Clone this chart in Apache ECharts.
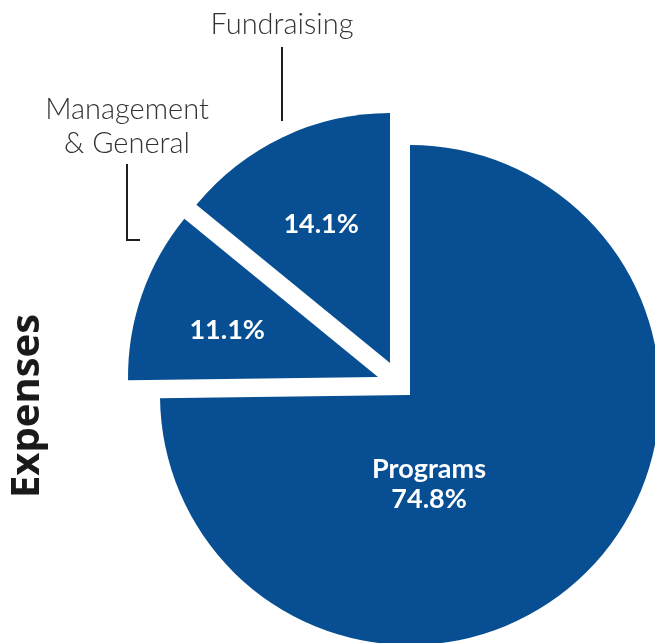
<!DOCTYPE html>
<html>
<head>
<meta charset="utf-8">
<script src="https://cdn.jsdelivr.net/npm/echarts@6/dist/echarts.min.js"></script>
<style>
html,body{margin:0;padding:0;background:#fff;}
#chart{width:655px;height:643px;}
</style>
</head>
<body>
<div id="chart"></div>
<script>
// ---- data ----
const titleText = 'Expenses';
const categories = ['Programs', 'Management & General', 'Fundraising'];
const values = [74.8, 11.1, 14.1];

// ---- layout / style config ----
const BLUE = '#074f92';
const pieCenter = [410, 395];
const pieRadius = 250;
const sliceShift = [[0, 0], [-32, -18], [-20, -32]];   // explode offsets per slice
const innerLabelShift = [[-72, -1], [-30, -4], [-14, -23]];

const chart = echarts.init(document.getElementById('chart'), null, {renderer: 'canvas'});

function innerFormatter(p) {
  const pct = p.value.toFixed(1) + '%';
  return p.dataIndex === 0 ? p.name + '\n' + pct : pct;
}

const series = categories.map(function (_, i) {
  return {
    type: 'pie',
    silent: true,
    clockwise: true,
    startAngle: 90,
    center: [pieCenter[0] + sliceShift[i][0], pieCenter[1] + sliceShift[i][1]],
    radius: [0, pieRadius],
    avoidLabelOverlap: false,
    animation: false,
    emphasis: {disabled: true},
    label: {
      show: true,
      position: 'inside',
      formatter: innerFormatter,
      color: '#ffffff',
      fontFamily: 'Lato',
      fontWeight: 'bold',
      fontSize: 27,
      lineHeight: 30
    },
    labelLine: {show: false},
    labelLayout: function (params) {
      const s = innerLabelShift[params.dataIndex];
      return {dx: s[0], dy: s[1]};
    },
    data: categories.map(function (name, j) {
      return {
        name: name,
        value: values[j],
        itemStyle: {color: j === i ? BLUE : 'rgba(0,0,0,0)'},
        label: {show: j === i}
      };
    })
  };
});

// outer annotation labels with leader lines
const outerLabelPos = {
  1: {x: 127, y: 127, line: [[140, 240], [127, 240], [127, 164]]},
  2: {x: 282, y: 25, line: [[282, 121], [282, 84], [282, 47]]}
};
series.push({
  type: 'pie',
  silent: true,
  center: pieCenter,
  radius: [0, pieRadius],
  startAngle: 90,
  avoidLabelOverlap: false,
  animation: false,
  emphasis: {disabled: true},
  itemStyle: {color: 'rgba(0,0,0,0)'},
  label: {
    show: true,
    position: 'outside',
    formatter: function (p) { return p.name.replace(' & ', '\n& '); },
    color: '#333333',
    fontFamily: 'Lato',
    fontWeight: 300,
    fontSize: 29,
    lineHeight: 34,
    align: 'center'
  },
  labelLine: {show: true, lineStyle: {color: '#1e1e1e', width: 2}, length: 20, length2: 20},
  labelLayout: function (params) {
    const o = outerLabelPos[params.dataIndex];
    if (!o) return {};
    return {x: o.x, y: o.y, align: 'center', verticalAlign: 'middle', labelLinePoints: o.line};
  },
  data: categories.map(function (name, j) {
    return {
      name: name,
      value: values[j],
      label: {show: j !== 0},
      labelLine: {show: j !== 0}
    };
  })
});

chart.setOption({
  backgroundColor: '#ffffff',
  animation: false,
  graphic: [{
    type: 'text',
    x: 28,
    y: 406,
    rotation: Math.PI / 2,
    style: {
      text: titleText,
      fontFamily: 'Open Sans',
      fontWeight: 'bold',
      fontSize: 40,
      fill: '#1a1a1a',
      align: 'center',
      verticalAlign: 'middle'
    }
  }],
  series: series
});
</script>
</body>
</html>
